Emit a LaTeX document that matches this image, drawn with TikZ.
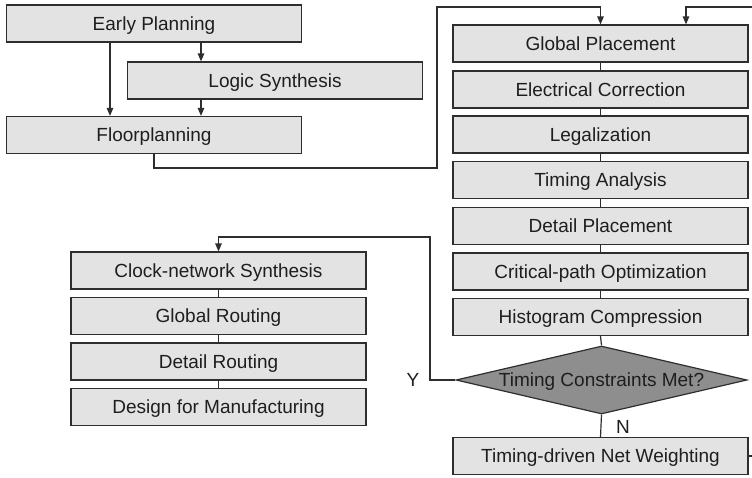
\documentclass[tikz,border=0pt]{standalone}
\usepackage{fontspec}
\setmainfont{Liberation Sans}
\usetikzlibrary{arrows.meta,shapes.geometric}
\definecolor{boxfill}{HTML}{E3E3E3}
\definecolor{decfill}{HTML}{8E8E8E}
\definecolor{edge}{HTML}{2E2E2E}
\definecolor{ink}{HTML}{1E1E1E}
\begin{document}
\begin{tikzpicture}[x=1pt,y=-1pt,
  stepbox/.style={draw=edge,line width=1.2pt,fill=boxfill,minimum width=295pt,
    minimum height=37pt,inner sep=0pt,text=ink,text height=13.5pt,text depth=0pt,
    font=\fontsize{19}{21}\selectfont},
  decision/.style={diamond,draw=edge,line width=1.2pt,fill=decfill,aspect=4.28,
    minimum width=291pt,minimum height=68pt,inner sep=0pt,text=ink,
    text height=13.5pt,text depth=0pt,font=\fontsize{19}{21}\selectfont},
  link/.style={draw=edge,line width=1.2pt},
  arr/.style={link,-{Triangle[length=8pt,width=6.5pt]}},
  tag/.style={text=ink,font=\fontsize{19}{21}\selectfont,inner sep=0pt,
    text height=13.5pt,text depth=0pt}]
\useasboundingbox (0,0) rectangle (752,477);

% front-end steps
\node[stepbox] (early) at (154,23.5) {Early Planning};
\node[stepbox] (logic) at (275,80.5) {Logic Synthesis};
\node[stepbox] (floor) at (154,135) {Floorplanning};

% placement column
\node[stepbox] (gp)  at (600.5,43.5) {Global Placement};
\node[stepbox] (ec)  at (600.5,89.5) {Electrical Correction};
\node[stepbox] (leg) at (600.5,134.5) {Legalization};
\node[stepbox] (ta)  at (600.5,180) {Timing Analysis};
\node[stepbox] (dp)  at (600.5,226) {Detail Placement};
\node[stepbox] (cpo) at (600.5,271.5) {Critical-path Optimization};
\node[stepbox] (hc)  at (600.5,317) {Histogram Compression};
\node[decision] (dm) at (601.5,380) {\makebox[0pt]{Timing Constraints Met?}};
\node[stepbox] (tdnw) at (600.5,456) {Timing-driven Net Weighting};

% routing column
\node[stepbox] (cns) at (218.5,270.5) {Clock-network Synthesis};
\node[stepbox] (gr)  at (218.5,316) {Global Routing};
\node[stepbox] (dr)  at (218.5,361.5) {Detail Routing};
\node[stepbox] (dfm) at (218.5,407) {Design for Manufacturing};

% decision labels
\node[tag] (ylab) at (413,380) {Y};
\node[tag] (nlab) at (623,427) {N};

% loop corners
\coordinate (fl1) at (437,168);
\coordinate (fl2) at (437,7);
\coordinate (fbtop) at (756,7);
\coordinate (yl) at (430,237);

% front-end arrows
\draw[arr] ([xshift=47pt]early.south) -- ([xshift=47pt]early.south |- logic.north);
\draw[arr] ([xshift=-44pt]early.south) -- ([xshift=-44pt]early.south |- floor.north);
\draw[arr] ([xshift=-74pt]logic.south) -- ([xshift=-74pt]logic.south |- floor.north);
\draw[arr] (floor.south) |- (fl1) -- (fl2) -| (gp.north);

% placement chain
\draw[link] (gp) -- (ec);
\draw[link] (ec) -- (leg);
\draw[link] (leg) -- (ta);
\draw[link] (ta) -- (dp);
\draw[link] (dp) -- (cpo);
\draw[link] (cpo) -- (hc);
\draw[link] (hc.south) -- (dm.north);
\draw[link] (dm.south) -- (tdnw.north);
\draw[arr] (tdnw.east) -| (fbtop) -| ([xshift=85.5pt]gp.north);

% exit to routing
\draw[arr] (dm.west) -| (yl) -| (cns.north);
\draw[link] (cns) -- (gr);
\draw[link] (gr) -- (dr);
\draw[link] (dr) -- (dfm);
\end{tikzpicture}
\end{document}
